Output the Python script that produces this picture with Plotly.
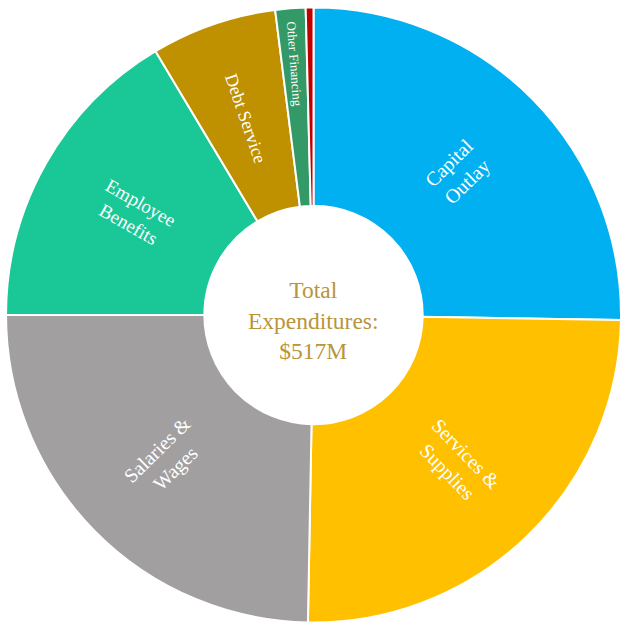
import plotly.graph_objects as go

# Expenditure categories ($M), clockwise from 12 o'clock
categories = ["Capital Outlay", "Services & Supplies", "Salaries & Wages",
              "Employee Benefits", "Debt Service", "Other Financing", "Other"]
values = [130.6, 129.4, 127.8, 84.8, 34.1, 8.2, 2.1]
slice_labels = ["Capital<br>Outlay", "Services &<br>Supplies", "Salaries &<br>Wages",
                "Employee<br>Benefits", "Debt Service", "Other Financing", ""]
label_sizes = [20, 20, 20, 19, 18, 13, 10]
colors = ["#00B0F0", "#FFC000", "#A19F9F", "#19C896", "#BF9000", "#339966", "#C00000"]
total_label = "Total<br>Expenditures:<br>$517M"

fig = go.Figure(go.Pie(
    labels=categories,
    values=values,
    text=slice_labels,
    textinfo="text",
    textposition="inside",
    insidetextorientation="radial",
    sort=False,
    direction="clockwise",
    rotation=0,
    hole=0.355,
    marker=dict(colors=colors, line=dict(color="white", width=2)),
    insidetextfont=dict(family="Liberation Serif, Times New Roman, serif",
                        color="white", size=label_sizes),
    domain=dict(x=[0.0097, 1.0], y=[0.0032, 0.9888]),
    showlegend=False,
    hoverinfo="label+value",
))

fig.add_annotation(
    text=total_label,
    x=0.5055, y=0.487, xref="paper", yref="paper",
    showarrow=False,
    font=dict(family="Liberation Serif, Times New Roman, serif", size=23.5, color="#B8953A"),
    align="center",
)

fig.update_layout(
    width=621, height=625,
    margin=dict(l=0, r=0, t=0, b=0),
    paper_bgcolor="white",
    plot_bgcolor="white",
)

fig.write_html("out.html")
